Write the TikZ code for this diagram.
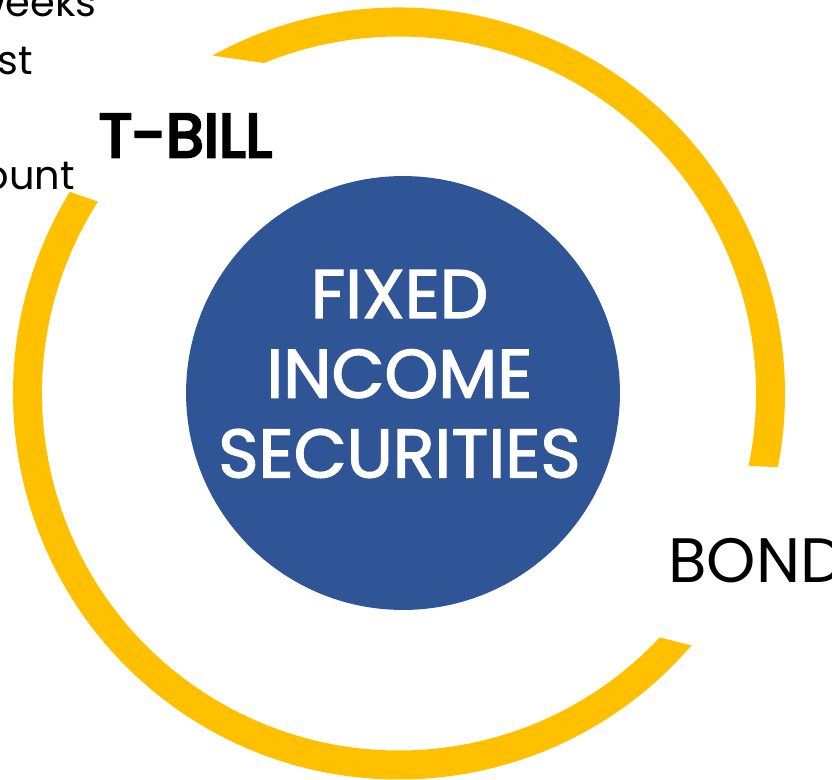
\documentclass[tikz,border=0pt]{standalone}
\usepackage{fontspec}
\setmainfont{Poppins}
\newfontfamily\heavyfont{Poppins}[FakeBold=4.5]
\newfontfamily\midfont{Poppins}[FakeBold=2]
\usetikzlibrary{
    positioning
}
\definecolor{ringgold}{HTML}{FFC000}
\definecolor{hubblue}{HTML}{2F5597}
\tikzset{
    every picture/.style = {
        x = 0.02cm,
        y = 0.02cm
    },
    ring/.style = {
        fill = ringgold
    },
    hub/.style = {
        circle,
        fill = hubblue,
        inner sep = 0pt,
        minimum size = 8.68cm
    },
    hubtext/.style = {
        inner sep = 0pt,
        text = white,
        align = center,
        font = \midfont\fontsize{39}{45.4}\selectfont
    },
    title/.style = {
        inner sep = 0pt,
        font = \fontsize{35.7}{40}\selectfont
    },
    side/.style = {
        inner sep = 0pt,
        anchor = base east,
        font = \fontsize{22.7}{27}\selectfont
    }
}

\begin{document}
\begin{tikzpicture}
    \useasboundingbox (0,0) rectangle (832,779);
    \coordinate (c) at (399,385.5);

    % ring pieces
    \fill[ring] (c) ++(118.9:386) arc[start angle = 118.9, end angle = -11.0, radius = 386]
        -- ([shift = {(-11.7:357)}]c) arc[start angle = -11.7, end angle = 112.2, radius = 357] -- cycle;
    \fill[ring] (c) ++(-40.75:386) arc[start angle = -40.75, end angle = -211.5, radius = 386]
        -- ([shift = {(-212.5:357)}]c) arc[start angle = -212.5, end angle = -43.1, radius = 357] -- cycle;

    \node[hub] (0) at (403,386) {};
    \node[hubtext] (1) at (399.5,405) {FIXED\\INCOME\\SECURITIES};

    \node[title, font = \heavyfont\fontsize{35}{40}\selectfont, anchor = base] (2) at (185.5,622) {T-BILL};
    \node[title, anchor = base west] (3) at (668,197) {BOND};

    \node[side] (4) at (97,762) {weeks};
    \node[side] (5) at (33,704) {st};
    \node[side] (6) at (75,589) {ount};
\end{tikzpicture}
\end{document}
